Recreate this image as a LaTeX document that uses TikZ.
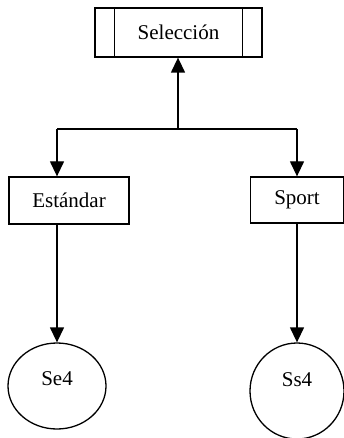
\documentclass[tikz,border=0pt]{standalone}
\usepackage{fontspec}
\setmainfont{Liberation Serif}
\usetikzlibrary{arrows.meta,shapes.geometric,calc}

\begin{document}
\begin{tikzpicture}[x=1pt,y=-1pt,>={Triangle[width=14pt,length=15pt]},line width=1.3pt,
  box node/.style={rectangle,draw,font=\fontsize{21}{25}\selectfont,inner sep=0pt},
  state node/.style={ellipse,draw,font=\fontsize{21}{25}\selectfont,inner sep=0pt}]

            \useasboundingbox (0,0) rectangle (344,438);

            \node[box node,minimum width=167pt,minimum height=49pt] (sel) at (178.5,32.5) {Selecci\'on\hspace{12pt}};
            \node[box node,minimum width=120pt,minimum height=47pt] (est) at (69,200.5) {Est\'andar};
            \node[box node,minimum width=93pt,minimum height=46pt] (spo) at (297,200) {Sport};
            \node[state node,minimum width=98pt,minimum height=86pt,text depth=14pt] (se4) at (57,386) {Se4};
            \node[state node,minimum width=94pt,minimum height=96pt,text depth=22pt] (ss4) at (297,391) {Ss4};

            % double bars of the selection box
            \draw ([xshift=20pt]sel.north west) -- ([xshift=20pt]sel.south west);
            \draw ([xshift=-20pt]sel.north east) -- ([xshift=-20pt]sel.south east);

            \coordinate (mid) at (178,129);
            \coordinate (l) at (57,129);
            \coordinate (r) at (297,129);

            \draw[->] (mid) -- (mid |- sel.south);
            \draw (l) -- (r);
            \draw[->] (l) -- (l |- est.north);
            \draw[->] (r) -- (spo);
            \draw[->] (est.south -| se4) -- (se4);
            \draw[->] (spo) -- (ss4);

            ;
        \end{tikzpicture}
\end{document}
